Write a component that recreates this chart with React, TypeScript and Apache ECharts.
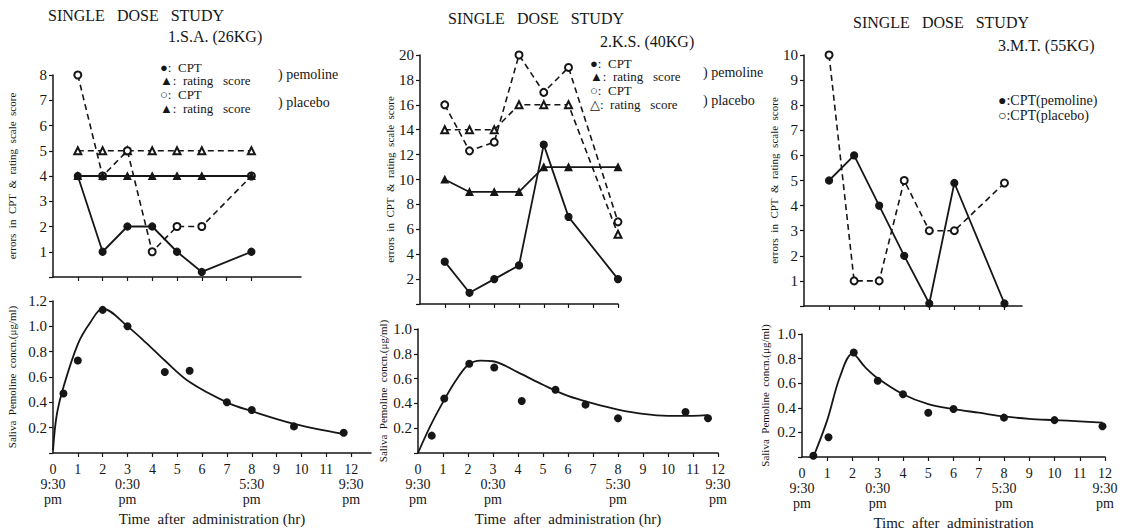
import React, { useEffect, useRef } from 'react';
import * as echarts from 'echarts';

const FONT = '"Liberation Serif", "DejaVu Serif", serif';
const INK = '#161616';

// ---- top panels (errors in CPT & rating scale score) ----
const TOP_HOURS = [1, 2, 3, 4, 5, 6, 8];
const TOP_TICKS = [1, 2, 3, 4, 5, 6, 7, 8];

const P1_PEM_CPT = [4, 1, 2, 2, 1, 0.2, 1];
const P1_PEM_RATING = [4, 4, 4, 4, 4, 4, 4];
const P1_PLA_CPT = [8, 4, 5, 1, 2, 2, 4];
const P1_PLA_RATING = [5, 5, 5, 5, 5, 5, 5];

const P2_PEM_CPT = [3.4, 0.9, 2, 3.1, 12.8, 7, 2];
const P2_PEM_RATING = [10, 9, 9, 9, 11, 11, 11];
const P2_PLA_CPT = [16, 12.3, 13, 20, 17, 19, 6.6];
const P2_PLA_RATING = [14, 14, 14, 16, 16, 16, 5.6];

const P3_PEM_CPT = [5, 6, 4, 2, 0.1, 4.9, 0.1];
const P3_PLA_CPT = [10, 1, 1, 5, 3, 3, 4.9];

// ---- bottom panels (saliva pemoline concentration) ----
const HOUR_LABELS = [0, 1, 2, 3, 4, 5, 6, 7, 8, 9, 10, 11, 12];
const HOUR_TICKS = [1, 2, 3, 4, 5, 6, 7, 8, 9, 10, 11, 12];
const CLOCK_LABELS: Record<number, string> = { 0: '9:30\npm', 3: '0:30\npm', 8: '5:30\npm', 12: '9:30\npm' };

const P1_SAMPLE_HOURS = [0.42, 1, 2, 3, 4.5, 5.5, 7, 8, 9.7, 11.7];
const P1_CONC = [0.47, 0.73, 1.13, 1.0, 0.64, 0.65, 0.4, 0.34, 0.21, 0.16];
const P1_CURVE_HOURS = [0, 0.15, 0.42, 1, 1.5, 2, 3, 3.75, 4.5, 5.5, 7, 8, 9.7, 11.7];
const P1_CURVE = [0.02, 0.3, 0.52, 0.86, 1.03, 1.14, 1.0, 0.87, 0.73, 0.56, 0.4, 0.33, 0.23, 0.15];

const P2_SAMPLE_HOURS = [0.55, 1.05, 2.05, 3.05, 4.15, 5.5, 6.7, 8, 10.7, 11.6];
const P2_CONC = [0.14, 0.44, 0.72, 0.69, 0.42, 0.51, 0.39, 0.28, 0.33, 0.28];
const P2_CURVE_HOURS = [0, 0.5, 1, 1.5, 2, 2.5, 3, 4, 5, 6, 7, 8, 9, 10, 11, 11.6];
const P2_CURVE = [0, 0.22, 0.41, 0.58, 0.71, 0.745, 0.74, 0.65, 0.55, 0.46, 0.4, 0.35, 0.315, 0.3, 0.3, 0.305];

const P3_SAMPLE_HOURS = [0.45, 1.05, 2.05, 3, 4, 5, 6, 8, 10, 11.9];
const P3_CONC = [0.01, 0.16, 0.85, 0.62, 0.51, 0.36, 0.39, 0.32, 0.3, 0.25];
const P3_CURVE_HOURS = [0.45, 1, 1.5, 2, 2.5, 3, 4, 5, 6, 7, 8, 9, 10, 11, 11.9];
const P3_CURVE = [0, 0.3, 0.65, 0.84, 0.73, 0.64, 0.51, 0.43, 0.39, 0.36, 0.33, 0.31, 0.3, 0.29, 0.28];

const Y_NAME_TOP = 'errors  in  CPT  &  rating  scale  score';
const Y_NAME_BOTTOM = 'Saliva  Pemoline  concn.(μg/ml)';

const LEGEND_P1 = ['●:  CPT', '▲:  rating   score', '○:  CPT', '▲:  rating   score'];
const LEGEND_P2 = ['●:  CPT', '▲:  rating   score', '○:  CPT', '△:  rating   score'];
const LEGEND_P3 = ['●:CPT(pemoline)', '○:CPT(placebo)'];

const pairs = (xs: number[], ys: number[]) => xs.map((x, i) => [x, ys[i]]);

function topX(gridIndex: number, max: number) {
  return {
    type: 'value', gridIndex, min: 0, max, interval: 1,
    axisLine: { lineStyle: { color: INK, width: 1.5 } },
    axisTick: { customValues: TOP_TICKS, length: 4, lineStyle: { color: INK, width: 1.2 } },
    axisLabel: { show: false },
    splitLine: { show: false },
  };
}

function bottomX(gridIndex: number, max: number, name: string) {
  return {
    type: 'value', gridIndex, min: 0, max, interval: 1,
    axisLine: { lineStyle: { color: INK, width: 1.5 } },
    axisTick: { customValues: HOUR_TICKS, length: 4, lineStyle: { color: INK, width: 1.2 } },
    axisLabel: {
      customValues: HOUR_LABELS,
      formatter: (v: number) => (CLOCK_LABELS[v] ? `${v}\n${CLOCK_LABELS[v]}` : `${v}`),
      color: INK, fontFamily: FONT, fontSize: 14, lineHeight: 15, margin: 9,
    },
    splitLine: { show: false },
    name, nameLocation: 'middle', nameGap: 58,
    nameTextStyle: { color: INK, fontFamily: FONT, fontSize: 15 },
  };
}

function yAx(gridIndex: number, max: number, interval: number, decimals: number, name: string, nameGap: number) {
  return {
    type: 'value', gridIndex, min: 0, max, interval,
    axisLine: { show: true, lineStyle: { color: INK, width: 1.5 } },
    axisTick: { show: true, length: 4, lineStyle: { color: INK, width: 1.2 } },
    axisLabel: {
      formatter: (v: number) => (v === 0 ? '' : v.toFixed(decimals)),
      color: INK, fontFamily: FONT, fontSize: 15, margin: 6,
    },
    splitLine: { show: false },
    name, nameLocation: 'middle', nameRotate: 90, nameGap,
    nameTextStyle: { color: INK, fontFamily: FONT, fontSize: 11 },
  };
}

function line(idx: number, data: number[][], dashed: boolean, symbol: string) {
  return {
    type: 'line', xAxisIndex: idx, yAxisIndex: idx, data, symbol, symbolSize: 7,
    lineStyle: { color: INK, width: dashed ? 1.6 : 1.8, type: dashed ? [6, 4] : 'solid' },
    itemStyle: { color: INK, borderColor: INK, borderWidth: 1.2, opacity: 1 },
    z: dashed ? 3 : 4,
  };
}

function curve(idx: number, data: number[][]) {
  return {
    type: 'line', xAxisIndex: idx, yAxisIndex: idx, data, symbol: 'none', smooth: 0.35,
    lineStyle: { color: INK, width: 1.8 },
  };
}

function dots(idx: number, data: number[][]) {
  return {
    type: 'scatter', xAxisIndex: idx, yAxisIndex: idx, data, symbol: 'circle', symbolSize: 8,
    itemStyle: { color: INK, opacity: 1 },
  };
}

function txt(x: number, y: number, text: string, size = 15) {
  return {
    type: 'text', x, y,
    style: { text, fill: INK, font: `${size}px ${FONT}`, verticalAlign: 'middle', align: 'left' },
  };
}

function legendBlock(x: number, y0: number, pitch: number, lines: string[], size: number) {
  return lines.map((t, i) => txt(x, y0 + i * pitch, t, size));
}

export default function App() {
  const ref = useRef<HTMLDivElement>(null);

  useEffect(() => {
    if (!ref.current) return;
    const chart = echarts.init(ref.current, undefined, { renderer: 'svg' });
    const option: any = {
      animation: false,
      backgroundColor: '#ffffff',
      grid: [
        { left: 53, top: 75, width: 248, height: 202 },
        { left: 53, top: 301, width: 318, height: 152 },
        { left: 420, top: 55, width: 198, height: 249 },
        { left: 418, top: 329, width: 300, height: 124 },
        { left: 804, top: 55, width: 218, height: 251 },
        { left: 802, top: 334, width: 303, height: 123 },
      ],
      xAxis: [
        topX(0, 10),
        bottomX(1, 12.8, 'Time  after  administration (hr)'),
        topX(2, 8),
        bottomX(3, 12, 'Time  after  administration (hr)'),
        topX(4, 8.7),
        bottomX(5, 12, 'Timc  after  administration'),
      ],
      yAxis: [
        yAx(0, 8, 1, 0, Y_NAME_TOP, 36),
        yAx(1, 1.2, 0.2, 1, Y_NAME_BOTTOM, 36),
        yAx(2, 20, 2, 0, Y_NAME_TOP, 24),
        yAx(3, 1.0, 0.2, 1, Y_NAME_BOTTOM, 30),
        yAx(4, 10, 1, 0, Y_NAME_TOP, 22),
        yAx(5, 1.0, 0.2, 1, Y_NAME_BOTTOM, 32),
      ],
      series: [
        line(0, pairs(TOP_HOURS, P1_PLA_RATING), true, 'emptyTriangle'),
        line(0, pairs(TOP_HOURS, P1_PLA_CPT), true, 'emptyCircle'),
        line(0, pairs(TOP_HOURS, P1_PEM_RATING), false, 'triangle'),
        line(0, pairs(TOP_HOURS, P1_PEM_CPT), false, 'circle'),
        curve(1, pairs(P1_CURVE_HOURS, P1_CURVE)),
        dots(1, pairs(P1_SAMPLE_HOURS, P1_CONC)),

        line(2, pairs(TOP_HOURS, P2_PLA_RATING), true, 'emptyTriangle'),
        line(2, pairs(TOP_HOURS, P2_PLA_CPT), true, 'emptyCircle'),
        line(2, pairs(TOP_HOURS, P2_PEM_RATING), false, 'triangle'),
        line(2, pairs(TOP_HOURS, P2_PEM_CPT), false, 'circle'),
        curve(3, pairs(P2_CURVE_HOURS, P2_CURVE)),
        dots(3, pairs(P2_SAMPLE_HOURS, P2_CONC)),

        line(4, pairs(TOP_HOURS, P3_PLA_CPT), true, 'emptyCircle'),
        line(4, pairs(TOP_HOURS, P3_PEM_CPT), false, 'circle'),
        curve(5, pairs(P3_CURVE_HOURS, P3_CURVE)),
        dots(5, pairs(P3_SAMPLE_HOURS, P3_CONC)),
      ],
      graphic: [
        txt(48, 15, 'SINGLE   DOSE   STUDY', 16),
        txt(168, 36, '1.S.A. (26KG)', 16),
        ...legendBlock(160, 67, 13.7, LEGEND_P1, 13),
        txt(278, 74, ') pemoline', 14),
        txt(278, 102, ') placebo', 14),

        txt(448, 18, 'SINGLE   DOSE   STUDY', 16),
        txt(600, 41, '2.K.S. (40KG)', 16),
        ...legendBlock(590, 63, 13.7, LEGEND_P2, 13),
        txt(703, 72, ') pemoline', 14),
        txt(703, 100, ') placebo', 14),

        txt(853, 22, 'SINGLE   DOSE   STUDY', 16),
        txt(998, 45, '3.M.T. (55KG)', 16),
        ...legendBlock(998, 100, 15.5, LEGEND_P3, 14),
      ],
    };
    chart.setOption(option);
    return () => chart.dispose();
  }, []);

  return (
    <div
      ref={ref}
      style={{ position: 'fixed', left: 0, top: 0, width: 1138, height: 531, background: '#fff' }}
    />
  );
}
